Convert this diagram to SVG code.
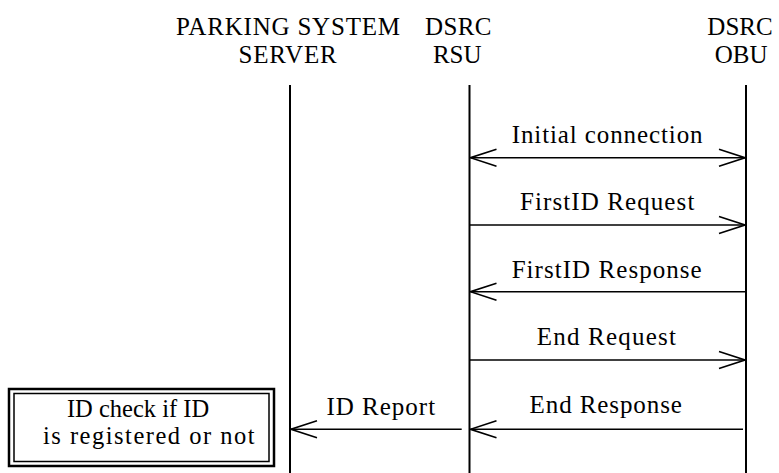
<svg xmlns="http://www.w3.org/2000/svg" width="779" height="473" viewBox="0 0 779 473">
<style>
.life{stroke:#000;stroke-width:2;fill:none}
.msg{stroke:#000;stroke-width:1.6;fill:none}
.box{fill:#fff;stroke:#000}
</style>
<defs>
<marker id="open" viewBox="-30 -11 32 22" markerWidth="32" markerHeight="22" refX="0" refY="0" orient="auto-start-reverse" markerUnits="userSpaceOnUse">
<path d="M -26 -8.5 L 0 0 L -26 8.5" fill="none" stroke="#000" stroke-width="1.6"/>
</marker>
</defs>
<rect width="779" height="473" fill="#fff"/>
<g font-family="Liberation Serif" font-size="25" fill="#000" text-anchor="middle">
<g id="server">
<text x="288.4" y="35" letter-spacing="0.8">PARKING SYSTEM</text>
<text x="288" y="63" letter-spacing="0.9">SERVER</text>
<line class="life" x1="290" y1="85" x2="290" y2="473"/>
</g>
<g id="rsu">
<text x="458.5" y="35" letter-spacing="0.4">DSRC</text>
<text x="457.2" y="63">RSU</text>
<line class="life" x1="469.5" y1="85" x2="469.5" y2="473"/>
</g>
<g id="obu">
<text x="740" y="35">DSRC</text>
<text x="741.2" y="63">OBU</text>
<line class="life" x1="746" y1="85" x2="746" y2="473"/>
</g>
<g id="check">
<rect class="box" x="9" y="389" width="265" height="77" stroke-width="2.5"/>
<rect class="box" x="14" y="393.5" width="255" height="68" stroke-width="1.5"/>
<text x="138" y="417" font-size="24.5">ID check if ID</text>
<text x="149.5" y="443.5" font-size="24.5" letter-spacing="1.5">is registered or not</text>
</g>
<g id="connectors">
<line class="msg" x1="470.5" y1="157.7" x2="745" y2="157.7" marker-start="url(#open)" marker-end="url(#open)"/>
<text x="607.6" y="143" letter-spacing="0.9">Initial connection</text>
<line class="msg" x1="469.5" y1="225" x2="745" y2="225" marker-end="url(#open)"/>
<text x="607.7" y="210" letter-spacing="1.1">FirstID Request</text>
<line class="msg" x1="746" y1="291.7" x2="470.5" y2="291.7" marker-end="url(#open)"/>
<text x="607.2" y="278" letter-spacing="1.05">FirstID Response</text>
<line class="msg" x1="469.5" y1="360" x2="745" y2="360" marker-end="url(#open)"/>
<text x="606.9" y="344.5" letter-spacing="1.2">End Request</text>
<line class="msg" x1="743" y1="429.3" x2="470.5" y2="429.3" marker-end="url(#open)"/>
<text x="606.2" y="413" letter-spacing="0.9">End Response</text>
<line class="msg" x1="461.7" y1="429.3" x2="291" y2="429.3" marker-end="url(#open)"/>
<text x="381.3" y="415" letter-spacing="1">ID Report</text>
</g>
</g>
</svg>
